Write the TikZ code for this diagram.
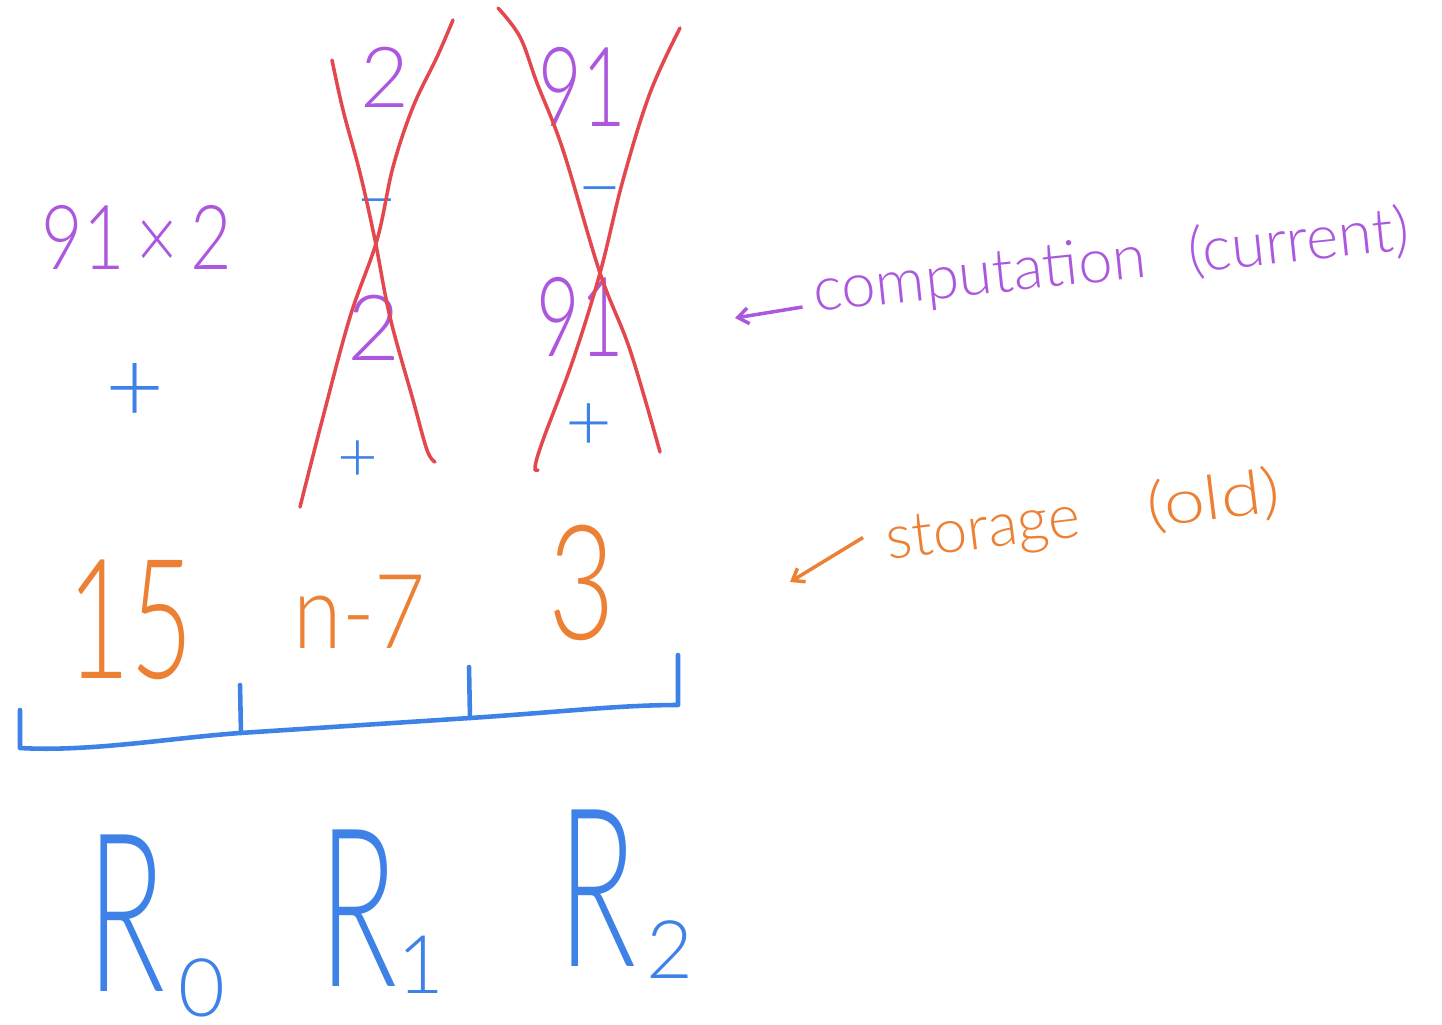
\documentclass[tikz,border=0pt]{standalone}
\usepackage{fontspec}
\setmainfont{Lato}[UprightFont=* Light]
\usepackage{xcolor}
\usepackage{graphicx}
\usepackage{tikz}
\usetikzlibrary{positioning, arrows.meta}

\definecolor{inkpurple}{RGB}{172,88,222}
\definecolor{inkblue}{RGB}{62,130,232}
\definecolor{inkorange}{RGB}{236,128,52}
\definecolor{inkred}{RGB}{226,72,78}
\newcommand{\squeeze}[2]{\scalebox{#1}[1]{#2}}

\begin{document}
\begin{tikzpicture}[
  x=0.02cm, y=-0.02cm,
  cur/.style={text=inkpurple, inner sep=0pt},
  op/.style={text=inkblue, inner sep=0pt},
  old/.style={text=inkorange, inner sep=0pt},
  reg/.style={text=inkblue, inner sep=0pt, font=\fontsize{126}{130}\selectfont},
  sub/.style={text=inkblue, inner sep=0pt, font=\fontsize{46}{50}\selectfont},
  strike/.style={draw=inkred, line width=2pt, line cap=round},
  pen/.style={draw=inkblue, line width=2.6pt, line cap=round, line join=round},
  note/.style={inner sep=0pt, anchor=base west, font=\fontsize{35}{38}\selectfont},
  hand/.style={-{Straight Barb[length=6pt, width=9pt]}, line width=2pt}
]
\useasboundingbox (0,0) rectangle (1442,1024);

% the expression on the left
\node[cur, font=\fontsize{51}{54}\selectfont] (prod) at (137,237) {\squeeze{0.8}{91\,×\,2}};
\node[op, font=\fontsize{58}{60}\selectfont] (plus) at (135,393) {+};

% first crossed-out column
\node[cur, font=\fontsize{48}{50}\selectfont] (twoA) at (385,77) {2};
\node[op, font=\fontsize{42}{44}\selectfont] (minA) at (377,210) {–};
\node[cur, font=\fontsize{52}{56}\selectfont] (twoB) at (374,328) {2};
\node[op, font=\fontsize{40}{44}\selectfont] (plusA) at (358,461) {+};
\draw[strike] plot[smooth, tension=0.6] coordinates {(332,60) (343,110) (360,173) (375,240) (390,317) (413,400) (427,450) (435,462)};
\draw[strike] plot[smooth, tension=0.6] coordinates {(453,20) (437,57) (413,107) (393,167) (377,240) (350,317) (323,417) (300,507)};

% second crossed-out column
\node[cur, font=\fontsize{63}{66}\selectfont] (nineA) at (582,87) {\squeeze{0.68}{91}};
\node[op, font=\fontsize{46}{48}\selectfont] (minB) at (600,199) {–};
\node[cur, font=\fontsize{63}{66}\selectfont] (nineB) at (580,317) {\squeeze{0.68}{91}};
\node[op, font=\fontsize{46}{48}\selectfont] (plusB) at (589,427) {+};
\draw[strike] plot[smooth, tension=0.6] coordinates {(498,8) (520,37) (537,83) (563,150) (600,273) (630,350) (660,452)};
\draw[strike] plot[smooth, tension=0.6] coordinates {(680,28) (650,93) (623,180) (600,273) (573,360) (543,440) (535,467) (538,470)};

% stored values
\node[old, font=\fontsize{95}{100}\selectfont] (valA) at (130,620) {\squeeze{0.65}{15}};
\node[old, font=\fontsize{59}{64}\selectfont] (valB) at (360,612) {\squeeze{0.85}{n-7}};
\node[old, font=\fontsize{91}{96}\selectfont] (valC) at (582,583) {\squeeze{0.72}{3}};

% register bracket
\coordinate (bl) at (20,710);
\coordinate (br) at (678,655);
\draw[pen] (bl) -- (20,748) .. controls (90,752) and (170,738) .. (240,733)
  -- (470,718) .. controls (560,712) and (620,705) .. (678,705) -- (br);
\draw[pen] (240,685) -- (241,733);
\draw[pen] (469,667) -- (470,718);

% register names
\node[reg] (rA) at (126,913) {\squeeze{0.58}{R}};
\node[sub] (sA) at (202,988) {0};
\node[reg] (rB) at (358,908) {\squeeze{0.58}{R}};
\node[sub] (sB) at (421,965) {1};
\node[reg] (rC) at (597,888) {\squeeze{0.58}{R}};
\node[sub] (sC) at (670,950) {2};

% annotations
\node[note, text=inkpurple, rotate=6] (comp) at (815,312) {computation\hspace{0.7em}(current)};
\coordinate (compTip) at (735,318);
\draw[hand, inkpurple] ([shift={(-0.25cm,0.1cm)}]comp.base west) -- (compTip);

\node[note, text=inkorange, rotate=7] (stor) at (888,560) {storage\hspace{1.1em}\squeeze{1.2}{(old)}};
\coordinate (storTip) at (790,582);
\draw[hand, inkorange] ([shift={(-0.5cm,0.45cm)}]stor.base west) -- (storTip);
\end{tikzpicture}
\end{document}
